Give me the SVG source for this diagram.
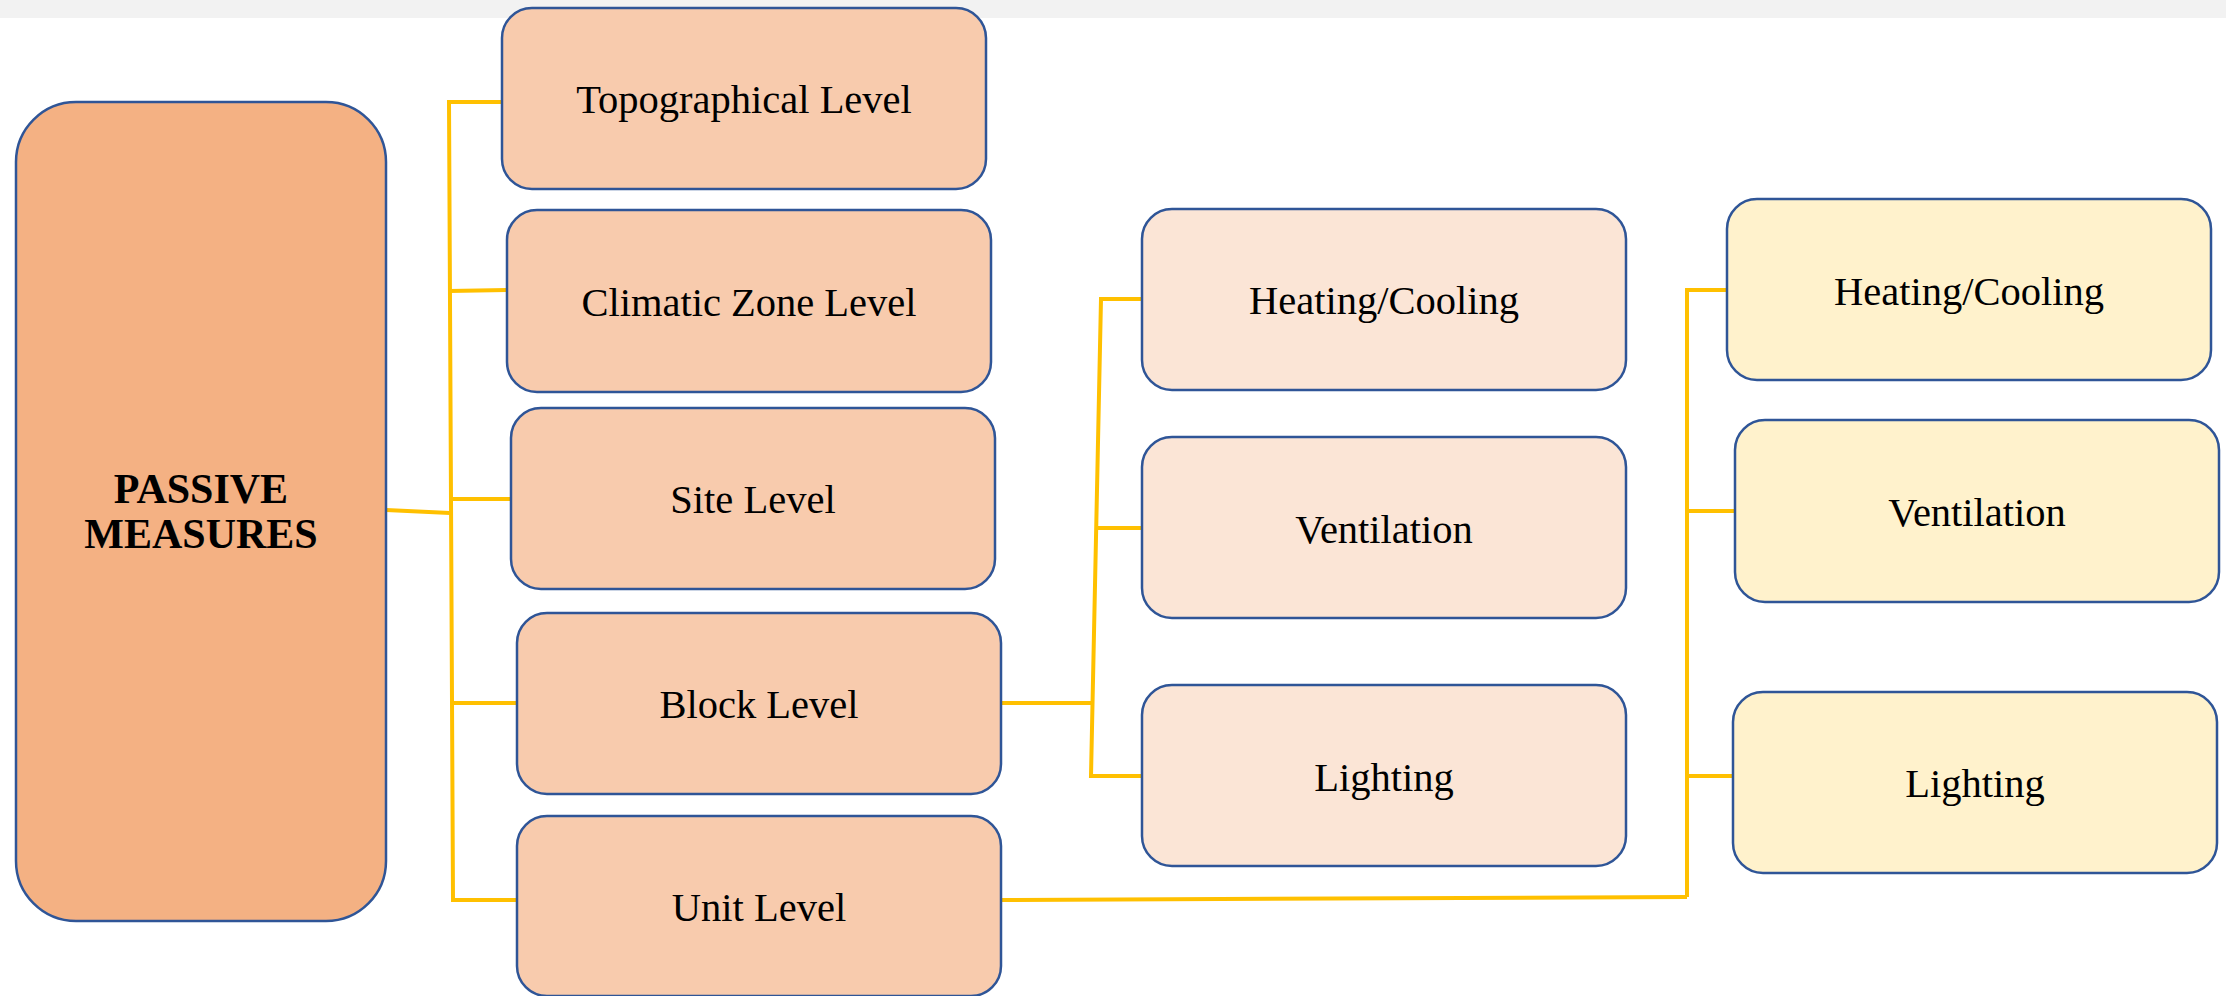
<svg xmlns="http://www.w3.org/2000/svg" width="2226" height="996" viewBox="0 0 2226 996">
<style>
.n{stroke:#2F5597;stroke-width:2.5}
.l1{fill:#F8CBAD}
.l2{fill:#FBE5D6}
.l3{fill:#FFF2CC}
.t{font-family:"Liberation Serif","DejaVu Serif",serif;font-size:40.5px;fill:#000;text-anchor:middle}
.b{font-weight:bold;font-size:42px}
#connectors path{fill:none;stroke:#FFC000;stroke-width:4;stroke-linejoin:miter}
</style>
<rect x="0" y="0" width="2226" height="996" fill="#FFFFFF"/>
<rect x="0" y="0" width="2226" height="18" fill="#F2F2F2"/>
<g id="connectors">
<path d="M386,510 L450,513"/>
<path d="M502,102 L449,102 L453,900 L517,900"/>
<path d="M449,291 L507,290"/>
<path d="M450,499 L511,499"/>
<path d="M452,703 L517,703"/>
<path d="M1001,703 L1092,703"/>
<path d="M1141,299 L1101,299 L1091,776 L1141,776"/>
<path d="M1096,528 L1141,528"/>
<path d="M1001,900 L1687,897"/>
<path d="M1727,290 L1687,290 L1687,897"/>
<path d="M1687,511 L1735,511"/>
<path d="M1687,776 L1733,776"/>
</g>
<g id="passive">
<rect class="n" x="16" y="102" width="370" height="819" rx="60" ry="60" fill="#F4B183"/>
<text class="t b" x="201" y="503">PASSIVE</text>
<text class="t b" x="201" y="548">MEASURES</text>
</g>
<g id="topographical">
<rect class="n l1" x="502" y="8" width="484" height="181" rx="30"/>
<text class="t" x="744" y="113">Topographical Level</text>
</g>
<g id="climatic">
<rect class="n l1" x="507" y="210" width="484" height="182" rx="30"/>
<text class="t" x="749" y="316">Climatic Zone Level</text>
</g>
<g id="site">
<rect class="n l1" x="511" y="408" width="484" height="181" rx="30"/>
<text class="t" x="753" y="513">Site Level</text>
</g>
<g id="block">
<rect class="n l1" x="517" y="613" width="484" height="181" rx="30"/>
<text class="t" x="759" y="718">Block Level</text>
</g>
<g id="unit">
<rect class="n l1" x="517" y="816" width="484" height="180" rx="30"/>
<text class="t" x="759" y="921">Unit Level</text>
</g>
<g id="block-heating">
<rect class="n l2" x="1142" y="209" width="484" height="181" rx="30"/>
<text class="t" x="1384" y="314">Heating/Cooling</text>
</g>
<g id="block-ventilation">
<rect class="n l2" x="1142" y="437" width="484" height="181" rx="30"/>
<text class="t" x="1384" y="543">Ventilation</text>
</g>
<g id="block-lighting">
<rect class="n l2" x="1142" y="685" width="484" height="181" rx="30"/>
<text class="t" x="1384" y="791">Lighting</text>
</g>
<g id="unit-heating">
<rect class="n l3" x="1727" y="199" width="484" height="181" rx="30"/>
<text class="t" x="1969" y="305">Heating/Cooling</text>
</g>
<g id="unit-ventilation">
<rect class="n l3" x="1735" y="420" width="484" height="182" rx="30"/>
<text class="t" x="1977" y="526">Ventilation</text>
</g>
<g id="unit-lighting">
<rect class="n l3" x="1733" y="692" width="484" height="181" rx="30"/>
<text class="t" x="1975" y="797">Lighting</text>
</g>
</svg>
